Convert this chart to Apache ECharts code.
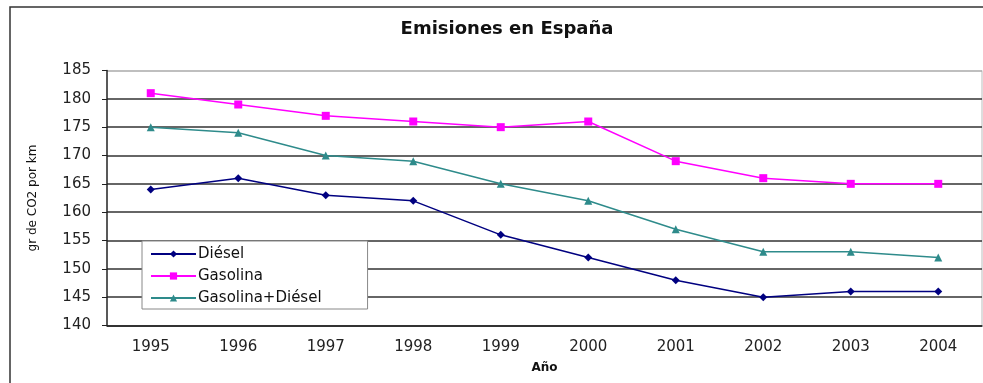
<!DOCTYPE html>
<html>
<head>
<meta charset="utf-8">
<script src="https://cdn.jsdelivr.net/npm/echarts@6/dist/echarts.min.js"></script>
<style>
  html, body { margin: 0; padding: 0; background: #fff; }
  #chart { width: 983px; height: 383px; }
</style>
</head>
<body>
<div id="chart"></div>
<script>
// Average new-car CO2 emissions in Spain (g CO2 per km)
const years = ['1995', '1996', '1997', '1998', '1999', '2000', '2001', '2002', '2003', '2004'];
const diesel = [164, 166, 163, 162, 156, 152, 148, 145, 146, 146];
const gasolina = [181, 179, 177, 176, 175, 176, 169, 166, 165, 165];
const mixto = [175, 174, 170, 169, 165, 162, 157, 153, 153, 152];
const seriesNames = ['Diésel', 'Gasolina', 'Gasolina+Diésel'];

const font = '"DejaVu Sans", Verdana, sans-serif';

const chart = echarts.init(document.getElementById('chart'), null, { renderer: 'canvas' });

function line(name, data, color, symbol, size) {
  return {
    name: name,
    type: 'line',
    data: data,
    symbol: symbol,
    symbolSize: size,
    lineStyle: { color: color, width: 1.5 },
    itemStyle: { color: color },
    animation: false
  };
}

// Gridlines are dark; the top one doubles as the light plot border
const gridColors = ['#333', '#333', '#333', '#333', '#333', '#333', '#333', '#333', '#333', '#aaa'];

chart.setOption({
  backgroundColor: '#fff',
  title: {
    text: 'Emisiones en España',
    left: 502,
    top: 15,
    textAlign: 'center',
    textStyle: { fontFamily: font, fontSize: 18, fontWeight: 'bold', color: '#111' }
  },
  graphic: [
    {
      type: 'rect',
      shape: { x: 10, y: 7, width: 985, height: 390 },
      style: { fill: null, stroke: '#333', lineWidth: 1.5 },
      silent: true
    },
    {
      type: 'line',
      shape: { x1: 982, y1: 70.5, x2: 982, y2: 325.5 },
      style: { stroke: '#bbb', lineWidth: 1 },
      silent: true
    }
  ],
  legend: {
    orient: 'vertical',
    left: 142,
    top: 241,
    padding: [5, 46, 3, 8],
    itemGap: 6,
    itemWidth: 45,
    itemHeight: 9,
    borderColor: '#888',
    borderWidth: 1,
    backgroundColor: '#fff',
    textStyle: { fontFamily: font, fontSize: 15, lineHeight: 16, color: '#111', padding: [0, 0, 0, -3] },
    data: seriesNames
  },
  grid: { left: 107, right: 1, top: 70.5, bottom: 57.5 },
  xAxis: {
    type: 'category',
    data: years,
    boundaryGap: true,
    name: 'Año',
    nameLocation: 'middle',
    nameGap: 36,
    nameTextStyle: { fontFamily: font, fontSize: 12, fontWeight: 'bold', color: '#111' },
    axisLine: { lineStyle: { color: '#222', width: 1.5 } },
    axisTick: { alignWithLabel: false, length: 5, lineStyle: { color: '#222' } },
    axisLabel: { fontFamily: font, fontSize: 15, color: '#222', margin: 14 }
  },
  yAxis: {
    type: 'value',
    min: 140,
    max: 185,
    interval: 5,
    name: 'gr de CO2 por km',
    nameLocation: 'middle',
    nameGap: 68,
    nameTextStyle: { fontFamily: font, fontSize: 12, color: '#111' },
    axisLine: { show: true, lineStyle: { color: '#222', width: 1.5 } },
    axisTick: { show: true, length: 5, lineStyle: { color: '#222' } },
    axisLabel: { fontFamily: font, fontSize: 15, color: '#222', margin: 16 },
    splitLine: { lineStyle: { color: gridColors, width: 1.5 } }
  },
  series: [
    line(seriesNames[0], diesel, '#000080', 'diamond', 8),
    line(seriesNames[1], gasolina, '#ff00ff', 'rect', 8),
    line(seriesNames[2], mixto, '#2e8b8b', 'triangle', 8)
  ]
});
</script>
</body>
</html>
